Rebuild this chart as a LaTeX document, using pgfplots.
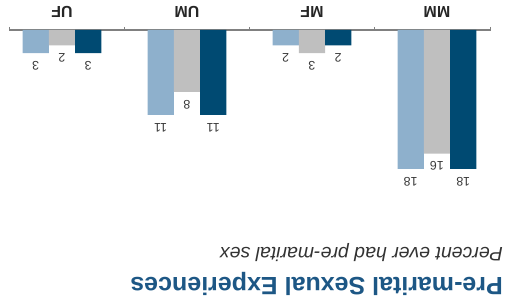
\documentclass[border=0pt]{standalone}
\usepackage{pgfplots}
\pgfplotsset{compat=1.18}
\usepackage{fontspec}
\setmainfont{Liberation Sans}
\definecolor{lb}{HTML}{8EB0CC}
\definecolor{gr}{HTML}{BFBFBF}
\definecolor{db}{HTML}{004A72}
\definecolor{tb}{HTML}{1D5785}
\definecolor{vt}{HTML}{3A3A3A}
\definecolor{axgray}{HTML}{808080}
\begin{document}
\begin{tikzpicture}
\path[use as bounding box] (0,0) rectangle (514pt,305pt);
\begin{axis}[
  at={(250.1pt,197.8pt)}, anchor=center,
  scale only axis, width=481.25pt, height=154.4pt,
  x dir=reverse, y dir=reverse,
  xmin=-0.43, xmax=3.42, ymin=0, ymax=20,
  axis x line*=top, axis y line=none,
  x axis line style={-, draw=axgray, line width=1.2pt},
  xtick={-0.43,0.5,1.5,2.5,3.42}, xticklabels={},
  tick align=outside, major tick length=3pt,
  xtick style={draw=axgray, line width=1pt},
  ybar=0pt, bar width=26.3pt,
  nodes near coords={\pgfmathprintnumber[assume math mode=true]{\pgfplotspointmeta}},
  every node near coord/.append style={rotate=180, anchor=south, inner ysep=8pt, font=\fontsize{12.5}{14}\selectfont, text=vt},
  clip=false,
]
\addplot[fill=lb, draw=none] coordinates {(0,18) (1,2) (2,11) (3,3)};
\addplot[fill=gr, draw=none] coordinates {(0,16) (1,3) (2,8) (3,2)};
\addplot[fill=db, draw=none] coordinates {(0,18) (1,2) (2,11) (3,3)};
\node[rotate=180, font=\bfseries\fontsize{16}{18}\selectfont, text=black!85] at ([yshift=18pt]axis cs:0,0) {MM};
\node[rotate=180, font=\bfseries\fontsize{16}{18}\selectfont, text=black!85] at ([yshift=18pt]axis cs:1,0) {MF};
\node[rotate=180, font=\bfseries\fontsize{16}{18}\selectfont, text=black!85] at ([yshift=18pt]axis cs:2,0) {UM};
\node[rotate=180, font=\bfseries\fontsize{16}{18}\selectfont, text=black!85] at ([yshift=18pt]axis cs:3,0) {UF};
\end{axis}
\node[rotate=180, anchor=base west, inner sep=0pt, font=\bfseries\fontsize{25}{30}\selectfont, text=tb] at (503pt,27pt) {Pre-marital Sexual Experiences};
\node[rotate=180, anchor=base west, inner sep=0pt, font=\itshape\fontsize{19.5}{23}\selectfont, text=black!80] at (503pt,57pt) {Percent ever had pre-marital sex};
\end{tikzpicture}
\end{document}
